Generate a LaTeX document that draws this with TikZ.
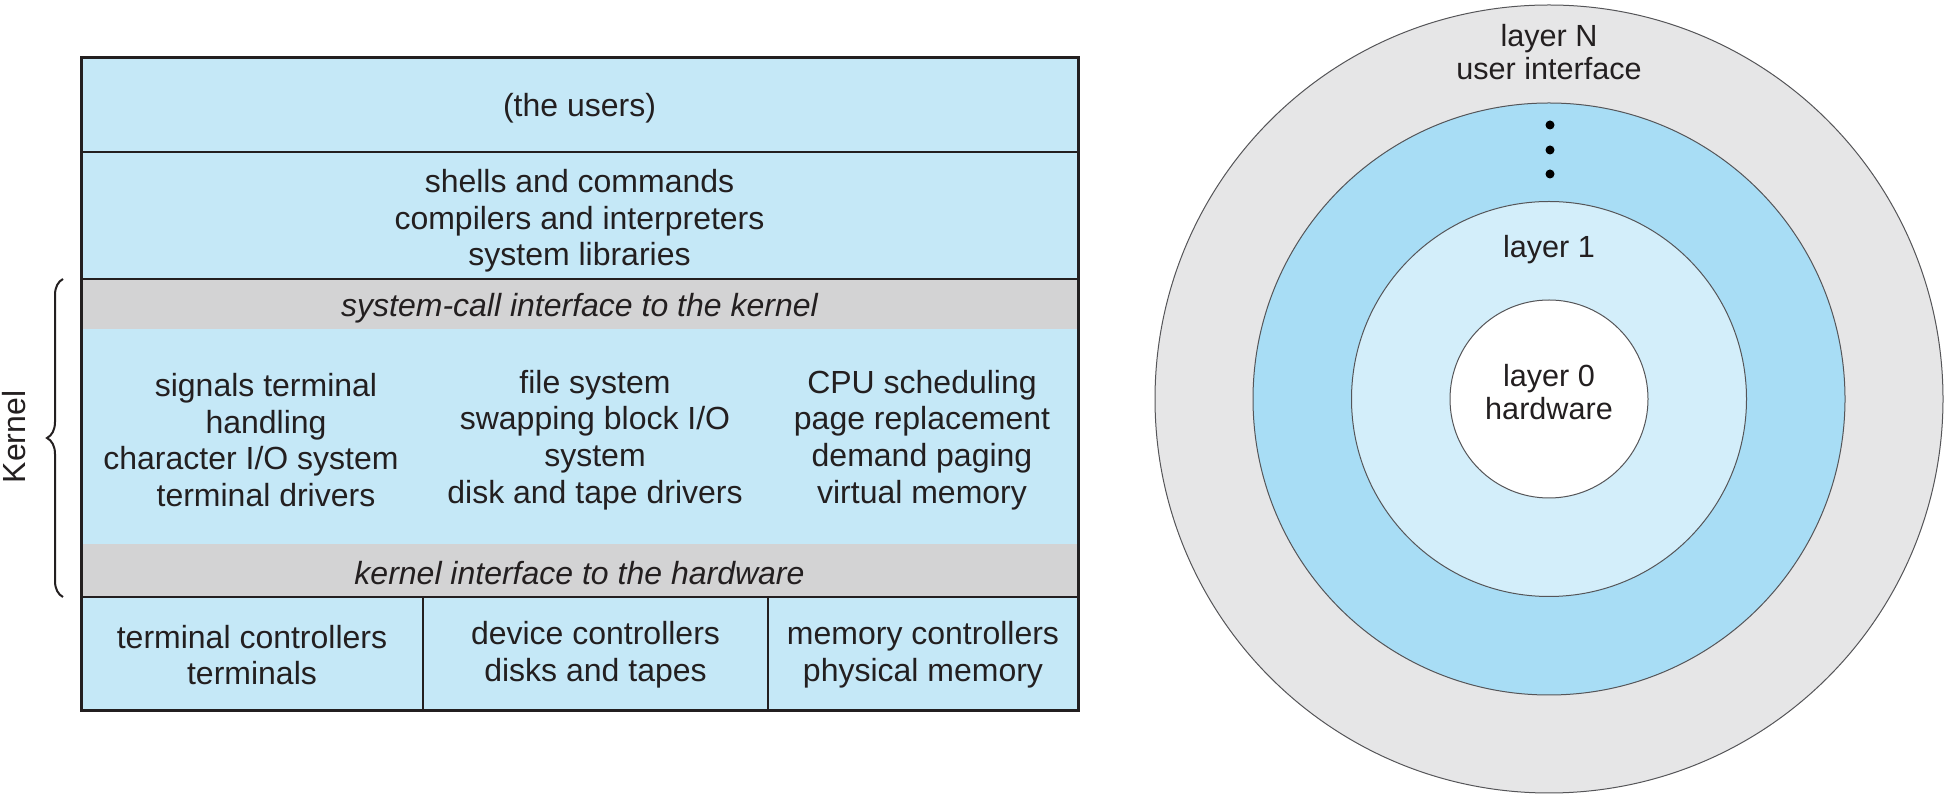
\documentclass[tikz,border=0pt]{standalone}
\usepackage{fontspec}
\setmainfont{Liberation Sans}
\usetikzlibrary{decorations.pathreplacing}

\definecolor{boxblue}{RGB}{197,232,247}
\definecolor{bandgray}{RGB}{211,211,212}
\definecolor{ringgray}{RGB}{230,230,231}
\definecolor{ringblue}{RGB}{168,221,245}
\definecolor{ringpale}{RGB}{211,238,250}
\definecolor{inkgray}{RGB}{35,31,32}
\definecolor{rimgray}{RGB}{85,85,88}

\tikzset{
	stacktext/.style={text=inkgray, font=\fontsize{16}{18.3}\selectfont, align=center, inner sep=0pt},
	bandtext/.style={stacktext, font=\fontsize{16}{18.3}\selectfont\itshape},
	ringtext/.style={text=inkgray, font=\fontsize{15.3}{16.5}\selectfont, align=center, inner sep=0pt},
	rule/.style={draw=inkgray, line width=1pt},
	ring/.style={draw=rimgray, line width=0.5pt}
}

\begin{document}
\begin{tikzpicture}[x=0.5pt,y=-0.5pt]
	\useasboundingbox (0,0) rectangle (1949,795);

	% layered structure
	\fill[boxblue] (81,58) rectangle (1078,711);
	\fill[bandgray] (81,279) rectangle (1078,329);
	\fill[bandgray] (81,544) rectangle (1078,597);
	\draw[rule] (81,152) -- (1078,152);
	\draw[rule] (81,279) -- (1078,279);
	\draw[rule] (81,597) -- (1078,597);
	\draw[rule] (423,597) -- (423,711);
	\draw[rule] (768,597) -- (768,711);
	\draw[draw=inkgray, line width=1.5pt] (81,58) rectangle (1078,711);

	\node[stacktext] (users) at (579.5,108) {(the users)};
	\node[stacktext] (shells) at (579.5,221) {shells and commands\\compilers and interpreters\\system libraries};
	\node[bandtext] (syscall) at (579.5,308) {system-call interface to the kernel};
	\node[stacktext] (kterm) at (266,440) {signals terminal\\handling\\character I/O system\rule{15pt}{0pt}\\terminal drivers};
	\node[stacktext] (kfile) at (595,440) {file system\\swapping block I/O\\system\\disk and tape drivers};
	\node[stacktext] (kmem) at (922,440) {CPU scheduling\\page replacement\\demand paging\\virtual memory};
	\node[bandtext] (hwif) at (579.5,573) {kernel interface to the hardware};
	\node[stacktext] (cterm) at (252,655) {terminal controllers\\terminals};
	\node[stacktext] (cdev) at (595.5,655) {device controllers\\disks and tapes};
	\node[stacktext] (cmem) at (923,655) {memory controllers\\physical memory};

	% kernel brace
	\draw[draw=inkgray, line width=1pt, decorate, decoration={brace, amplitude=8pt}] (63,597) -- (63,279);
	\node[stacktext, rotate=90] (kernel) at (14,437) {Kernel};

	% onion rings
	\filldraw[ring, fill=ringgray] (1549,399) circle[radius=394];
	\filldraw[ring, fill=ringblue] (1549,399) circle[radius=296];
	\filldraw[ring, fill=ringpale] (1549,399) circle[radius=197.5];
	\filldraw[ring, fill=white] (1549,399) circle[radius=99];
	\foreach \y in {125,150,174} \fill[black] (1550,\y) circle[radius=4.5];

	\node[ringtext] (layerN) at (1549,52) {layer N\\user interface};
	\node[ringtext] (layer1) at (1549,250) {layer 1};
	\node[ringtext] (layer0) at (1549,392) {layer 0\\hardware};
\end{tikzpicture}
\end{document}
